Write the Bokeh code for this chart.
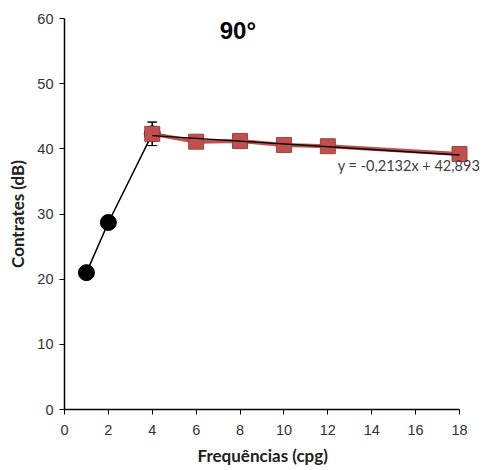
from bokeh.plotting import figure
from bokeh.models import Range1d, FixedTicker, Whisker, ColumnDataSource, Label, Title
from bokeh.embed import file_html
from bokeh.resources import INLINE

# data
freq_black = [1, 2, 4]
contr_black = [21.0, 28.7, 42.3]
err_black = [0.6, 0.4, 1.8]

freq_red = [4, 6, 8, 10, 12, 18]
contr_red = [42.3, 41.1, 41.2, 40.6, 40.4, 39.2]
err_red = [1.8, 0.8, 0.6, 1.0, 0.5, 0.5]

slope = -0.2132
intercept = 42.893
eq_text = "y = -0,2132x + 42,893"
title_text = "90°"
x_label = "Frequências (cpg)"
y_label = "Contrates (dB)"
x_ticks = [0, 2, 4, 6, 8, 10, 12, 14, 16, 18]
y_ticks = [0, 10, 20, 30, 40, 50, 60]

p = figure(width=486, height=470, output_backend="svg", toolbar_location=None,
           x_range=Range1d(0, 19.23), y_range=Range1d(0, 60),
           min_border_left=64, min_border_right=0, min_border_top=18, min_border_bottom=61)
p.outline_line_color = None
p.grid.visible = False
p.background_fill_color = "white"
p.border_fill_color = "white"

for ax in (p.xaxis[0], p.yaxis[0]):
    ax.axis_line_color = "black"
    ax.axis_line_width = 1.5
    ax.major_tick_line_color = "black"
    ax.major_tick_out = 5
    ax.major_tick_in = 0
    ax.minor_tick_line_color = None
    ax.major_label_text_font = "Liberation Sans"
    ax.major_label_text_font_size = "14.5px"
    ax.major_label_text_color = "#333333"
    ax.axis_label_text_font = "Lato"
    ax.axis_label_text_font_style = "bold"
    ax.axis_label_text_font_size = "17px"
    ax.axis_label_text_color = "#222222"

p.xaxis.bounds = (0, 18)
p.xaxis.ticker = FixedTicker(ticks=x_ticks)
p.yaxis.ticker = FixedTicker(ticks=y_ticks)
p.yaxis.axis_label = y_label
p.xaxis.major_label_standoff = 10
p.yaxis.major_label_standoff = 6
p.yaxis.axis_label_standoff = 6

xt = Title(text=x_label, align="left", offset=133, text_font="Lato", text_font_style="bold",
           text_font_size="17px", text_color="#222222", standoff=10)
p.add_layout(xt, "below")

# black series
p.line(freq_black, contr_black, line_color="black", line_width=1.5)
src_b = ColumnDataSource(dict(x=freq_black,
                              lo=[v - e for v, e in zip(contr_black, err_black)],
                              hi=[v + e for v, e in zip(contr_black, err_black)]))
p.add_layout(Whisker(source=src_b, base="x", lower="lo", upper="hi",
                     line_color="black", line_width=1.2))
p.scatter(freq_black, contr_black, marker="circle", size=16, fill_color="black", line_color="black")

# red series
p.line(freq_red, contr_red, line_color="#C0504D", line_width=4)
src_r = ColumnDataSource(dict(x=freq_red,
                              lo=[v - e for v, e in zip(contr_red, err_red)],
                              hi=[v + e for v, e in zip(contr_red, err_red)]))
wr = Whisker(source=src_r, base="x", lower="lo", upper="hi", line_color="black", line_width=1.2)
wr.upper_head.size = 8
wr.lower_head.size = 8
p.add_layout(wr)
p.scatter(freq_red, contr_red, marker="square", size=15, fill_color="#C0504D",
          line_color="#A04040", line_width=1)

# trend line
tx = [freq_red[0], freq_red[-1]]
ty = [slope * x + intercept for x in tx]
p.line(tx, ty, line_color="black", line_width=1.3)

p.add_layout(Label(x=12.45, y=37.4, text=eq_text, text_font="Lato", text_font_size="14.5px",
                   text_color="#404040", text_baseline="middle"))
p.add_layout(Label(x=7.9, y=58.2, text=title_text, text_font="Liberation Sans",
                   text_font_style="bold", text_font_size="24px", text_color="black",
                   text_align="center", text_baseline="middle"))

open("out.html", "w").write(file_html(p, INLINE))
